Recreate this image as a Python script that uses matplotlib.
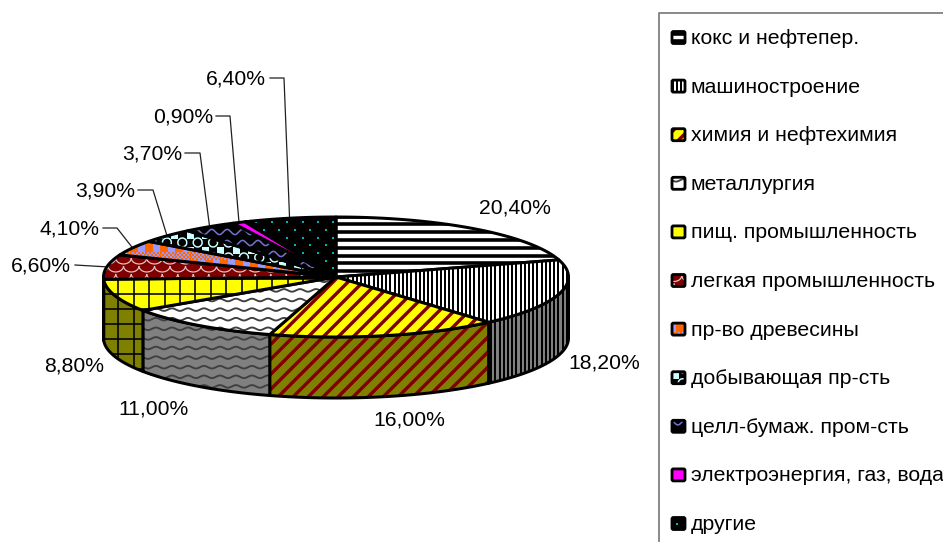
import numpy as np
import matplotlib
matplotlib.use("Agg")
from matplotlib import pyplot as plt
from matplotlib.patches import Polygon, Rectangle, FancyBboxPatch

plt.rcParams['font.family'] = ['Liberation Sans', 'DejaVu Sans']

## Data

categories = ["кокс и нефтепер.", "машиностроение", "химия и нефтехимия", "металлургия",
              "пищ. промышленность", "легкая промышленность", "пр-во древесины",
              "добывающая пр-сть", "целл-бумаж. пром-сть", "электроэнергия, газ, вода", "другие"]
values = [20.4, 18.2, 16.0, 11.0, 8.8, 6.6, 4.1, 3.9, 3.7, 0.9, 6.4]

## Fill style of every slice

top_colors = ['white', 'white', '#FFFF00', 'white', '#FFFF00', '#800000', '#9999FF', 'black', 'black', '#FF00FF', 'black']
side_colors = ['#808080', '#808080', '#808000', '#808080', '#808000', '#400000', '#4C4C80', 'black', 'black', '#800080', 'black']
inks = ['black', 'black', '#800000', '#404040', 'black', '#E8C8C8', '#FF6600', '#CCFFFF', '#7070CC', None, '#00B4B4']
patterns = ['hlines', 'vlines', 'diag', 'waves', 'grid', 'scales', 'blocks', 'chain', 'zigzag', None, 'dots']

# where the pattern starts inside each legend swatch, relative to the swatch left/centre
swatch_origin = [(0, 3.9), (1, 0), (6, 6), (0, -3), (-1, -7), (2, -5), (4, -6), (3, -2), (2, -4), (0, 0), (5, 0)]

## Pie geometry, in pixels

cx, cy = 336, 277
rx, ry = 232.5, 60
depth = 61
PX = 0.72  # one pixel in points at dpi 100

# label centre for each slice, and the knee of the leader line where there is one
label_pos = [(515, 208), (604, 363), (409, 420), (153, 409), (74, 366), (41, 266),
             (69, 229), (105, 191), (152, 154), (183, 117), (236, 79)]
leader_start = {5: (75, 265), 6: (103, 228), 7: (138, 190), 8: (185, 153), 9: (216, 116), 10: (270, 78)}
leader_knee = {6: (117, 228), 7: (153, 190), 8: (200, 153), 9: (230, 116), 10: (284, 78)}

fig = plt.figure(figsize=(9.43, 5.42), dpi=100)
ax = fig.add_axes([0, 0, 1, 1])
ax.set_xlim(0, 943)
ax.set_ylim(542, 0)
ax.autoscale(False)
ax.axis('off')


def rim(t):
    return cx + rx * np.sin(t), cy - ry * np.cos(t)


def clipped_line(x, y, clip, color, width, z):
    line, = ax.plot(x, y, color=color, lw=width * PX, zorder=z, solid_capstyle='butt')
    line.set_clip_path(clip)


def clipped_rect(x, y, w, h, clip, color, z):
    r = Rectangle((x, y), w, h, fc=color, ec='none', lw=0, zorder=z)
    ax.add_patch(r)
    r.set_clip_path(clip)


def steps(lo, hi, origin, period):
    first = origin + np.floor((lo - origin) / period) * period
    return np.arange(first - period, hi + period, period)


def draw_pattern(kind, clip, ink, z, origin=None):
    box = clip.get_path().get_extents()
    x0, x1, y0, y1 = box.x0, box.x1, box.y0, box.y1
    if kind == 'hlines':
        oy = origin[1] if origin else 224.3
        for y in steps(y0, y1, oy, 7.8):
            clipped_line([x0, x1], [y, y], clip, ink, 3.6, z)
    elif kind == 'vlines':
        ox = origin[0] if origin else 340
        for x in steps(x0, x1, ox, 4.2):
            clipped_line([x, x], [y0, y1], clip, ink, 2.0, z)
    elif kind == 'diag':
        ox = origin[0] if origin else 300
        oy = origin[1] if origin else 300
        for s in steps(x0 + y0, x1 + y1, ox + oy, 15):
            clipped_line([s - y0, s - y1], [y0, y1], clip, ink, 3.4, z)
    elif kind == 'waves':
        ox = origin[0] if origin else 0
        oy = origin[1] if origin else 300
        xs = np.arange(x0, x1 + 1, 1.0)
        for y in steps(y0, y1, oy, 9.6):
            clipped_line(xs, y + 1.3 * np.sin((xs - ox) * 2 * np.pi / 16), clip, ink, 1.9, z)
    elif kind == 'grid':
        ox = origin[0] if origin else 118.3
        oy = origin[1] if origin else 294
        for x in steps(x0, x1, ox, 15.4):
            clipped_line([x, x], [y0, y1], clip, ink, 1.6, z)
        for y in steps(y0, y1, oy, 15):
            clipped_line([x0, x1], [y, y], clip, ink, 1.6, z)
    elif kind == 'scales':
        ox = origin[0] if origin else 108
        oy = origin[1] if origin else 258
        t = np.linspace(0, np.pi, 14)
        for row, y in enumerate(steps(y0, y1, oy, 8)):
            shift = 7.75 * (row % 2)
            for x in steps(x0, x1, ox, 15.5):
                clipped_line(x + shift + 7.75 * np.cos(t), y + 6 * np.sin(t), clip, ink, 1.2, z)
    elif kind == 'blocks':
        ox = origin[0] if origin else 130
        oy = origin[1] if origin else 243
        for y in steps(y0, y1, oy, 16.5):
            for x in steps(x0, x1, ox, 15):
                clipped_rect(x, y, 7.5, 9, clip, ink, z)
                for i in range(4):
                    for j in range(4):
                        if (i + j) % 2 == 0:
                            clipped_rect(x + 2 * i, y + 9 + 2 * j, 2, 2, clip, ink, z)
                            clipped_rect(x + 8 + 2 * i, y + 9 + 2 * j, 2, 2, clip, ink, z)
    elif kind == 'chain':
        ox = origin[0] if origin else 190
        oy = origin[1] if origin else 235
        t = np.linspace(0, 2 * np.pi, 20)
        for y in steps(y0, y1, oy, 15):
            for x in steps(x0, x1, ox, 15.4):
                clipped_rect(x - 3.5, y - 3.5, 7, 7, clip, ink, z)
                clipped_line(x + 7.7 + 4.5 * np.cos(t), y + 7.5 + 4.5 * np.sin(t), clip, ink, 1.5, z)
    elif kind == 'zigzag':
        ox = origin[0] if origin else 0
        oy = origin[1] if origin else 232
        xs = np.arange(x0, x1 + 1, 1.0)
        for y in steps(y0, y1, oy, 11):
            clipped_line(xs, y + 2.6 * np.sin((xs - ox) * 2 * np.pi / 15.4), clip, ink, 1.6, z)
    elif kind == 'dots':
        ox = origin[0] if origin else 271.7
        oy = origin[1] if origin else 222.3
        for y in steps(y0, y1, oy, 7.7):
            shift = 7.7 * (int(round((y - oy) / 7.7)) % 2)
            for x in steps(x0, x1, ox, 15.4):
                clipped_rect(x + shift - 1, y - 1, 2, 2, clip, ink, z)


def draw_face(points, face, kind, ink, z):
    poly = Polygon(points, closed=True, fc=face, ec='none', zorder=z)
    ax.add_patch(poly)
    if kind:
        draw_pattern(kind, poly, ink, z + 0.1)
    ax.add_patch(Polygon(points, closed=True, fc='none', ec='black', lw=3 * PX,
                         joinstyle='round', zorder=z + 0.2))


## Slices: angles go clockwise from twelve o'clock

edges = np.radians(np.cumsum([0] + values) * 3.6)
z = 2

# outer wall of the slices facing the viewer
for i in range(len(values)):
    a, b = max(edges[i], np.pi / 2), min(edges[i + 1], 3 * np.pi / 2)
    if a >= b:
        continue
    t = np.linspace(a, b, 60)
    x, y = rim(t)
    pts = np.r_[np.c_[x, y], np.c_[x[::-1], y[::-1] + depth]]
    draw_face(pts, side_colors[i], patterns[i], inks[i], z)
    z += 1

# top of the pie
for i in range(len(values)):
    t = np.linspace(edges[i], edges[i + 1], 60)
    x, y = rim(t)
    pts = np.r_[[[cx, cy]], np.c_[x, y]]
    draw_face(pts, top_colors[i], patterns[i], inks[i], z)
    z += 1

## Percent labels and leader lines

mids = (edges[:-1] + edges[1:]) / 2
for i, v in enumerate(values):
    ax.text(label_pos[i][0], label_pos[i][1], f"{v:.2f}%".replace('.', ','), fontsize=15.2,
            ha='center', va='center', color='black', zorder=50)
    if i in leader_start:
        end = rim(mids[i])
        knee = [leader_knee[i]] if i in leader_knee else []
        line = np.array([leader_start[i]] + knee + [end])
        ax.plot(line[:, 0], line[:, 1], color='#202020', lw=0.9, zorder=1)

## Legend box, runs past the right and bottom edge of the figure

ax.plot([943, 658.5, 658.5], [13, 13, 541], color='#808080', lw=1.3, zorder=1, clip_on=False)

for i, name in enumerate(categories):
    y = 37.5 + i * 48.6
    box = dict(boxstyle='round,pad=0,rounding_size=1.5')
    frame = FancyBboxPatch((672, y - 6), 13, 12, fc=top_colors[i], ec='none', zorder=60, **box)
    ax.add_patch(frame)
    if patterns[i]:
        ox, oy = swatch_origin[i]
        draw_pattern(patterns[i], frame, inks[i], 60.1, origin=(672 + ox, y + oy))
    ax.add_patch(FancyBboxPatch((672, y - 6), 13, 12, fc='none', ec='black', lw=2.8 * PX, zorder=60.2, **box))
    ax.text(691, y + 1, name, fontsize=15.3, ha='left', va='center', color='black', zorder=60)

fig.savefig('out.png', dpi=100)
